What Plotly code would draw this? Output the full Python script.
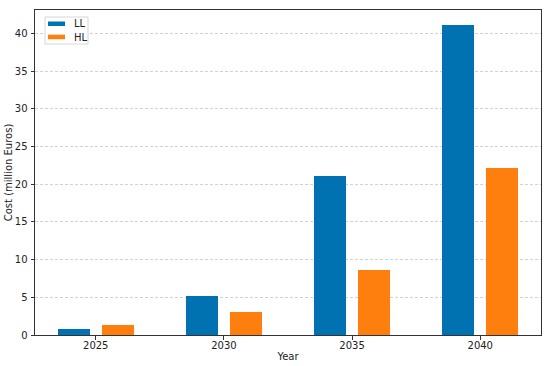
import plotly.graph_objects as go

years = ["2025", "2030", "2035", "2040"]
ll_cost = [0.8, 5.2, 21.1, 41.05]
hl_cost = [1.3, 3.05, 8.65, 22.1]
series_names = ["LL", "HL"]

colors = ["#0072b2", "#ff7f0e"]
idx = list(range(len(years)))
bar_w = 0.25

fig = go.Figure()
fig.add_trace(go.Bar(x=idx, y=ll_cost, name=series_names[0], width=bar_w, offset=-0.295,
                     marker=dict(color=colors[0], line=dict(width=0))))
fig.add_trace(go.Bar(x=idx, y=hl_cost, name=series_names[1], width=bar_w, offset=0.045,
                     marker=dict(color=colors[1], line=dict(width=0))))

font = "DejaVu Sans, sans-serif"
fig.update_layout(
    width=550, height=366,
    margin=dict(l=35, r=9, t=10, b=31, autoexpand=False),
    paper_bgcolor="white", plot_bgcolor="white",
    font=dict(family=font, size=10, color="#222"),
    showlegend=False,
    bargap=0,
)

# legend box drawn in pixel offsets from the top-left corner of the plot area
fig.add_shape(type="rect", xref="paper", yref="paper", xsizemode="pixel", ysizemode="pixel",
              xanchor=0, yanchor=1, x0=10, x1=53, y0=-7, y1=-34,
              line=dict(color="#d6d6d6", width=1), fillcolor="rgba(255,255,255,0.85)", layer="above")
for i, name in enumerate(series_names):
    top = -11.5 - 13.2 * i
    fig.add_shape(type="rect", xref="paper", yref="paper", xsizemode="pixel", ysizemode="pixel",
                  xanchor=0, yanchor=1, x0=13, x1=30, y0=top, y1=top - 4.5,
                  line=dict(width=0), fillcolor=colors[i], layer="above")
    fig.add_annotation(xref="paper", yref="paper", x=0, y=1, xshift=37, yshift=top - 2.4,
                       xanchor="left", yanchor="middle", text=name, showarrow=False,
                       font=dict(size=10, color="#222"))

fig.update_xaxes(
    automargin=False,
    range=[-0.474, 3.474], tickmode="array", tickvals=idx, ticktext=years,
    showgrid=False, zeroline=False, showline=True, linecolor="#333", linewidth=1, mirror=True,
    ticks="outside", ticklen=3.5, tickcolor="#333", ticklabelstandoff=-3,
    title=dict(text="Year", font=dict(size=10), standoff=3),
)
fig.update_yaxes(
    automargin=False,
    range=[0, 43.1], tickvals=[0, 5, 10, 15, 20, 25, 30, 35, 40],
    showgrid=True, gridcolor="#d2d2d2", griddash="3px,2px", gridwidth=0.8,
    zeroline=False, showline=True, linecolor="#333", linewidth=1, mirror=True,
    ticks="outside", ticklen=3.5, tickcolor="#333", ticklabelstandoff=1,
    title=dict(text="Cost (million Euros)", font=dict(size=10), standoff=0),
)
fig.write_html("out.html", config={"displayModeBar": False},
               post_script="document.body.style.margin='0px';document.body.style.overflow='hidden';")
